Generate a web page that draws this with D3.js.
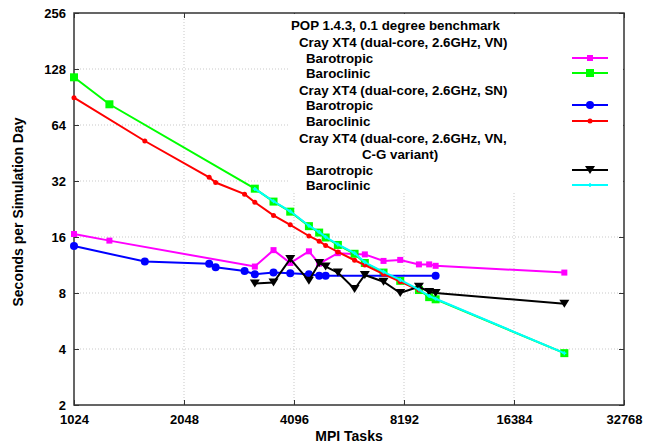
<!DOCTYPE html>
<html>
<head>
<meta charset="utf-8">
<script src="https://cdn.jsdelivr.net/npm/d3@7"></script>
<style>
  body { margin: 0; background: #fff; }
  svg { font-family: "Liberation Sans", Arial, sans-serif; font-weight: bold; }
  .grid line { stroke: #bbb; stroke-dasharray: 1,2; stroke-width: 0.8; }
</style>
</head>
<body>
<div id="chart"></div>
<script>
// tick values
var xTicks = [1024, 2048, 4096, 8192, 16384, 32768];
var yTicks = [2, 4, 8, 16, 32, 64, 128, 256];

// Cray XT4 VN
var vnTropTasks = [1024, 1280, 3200, 3600, 4000, 4500, 4800, 5400, 6400, 7200, 8000, 9000, 9600, 10000, 22500];
var vnTropSecs  = [16.6, 15.3, 11.1, 13.6, 11.6, 13.4, 11.5, 13.1, 12.9, 11.9, 12.05, 11.4, 11.4, 11.2, 10.3];
var vnClinTasks = [1024, 1280, 3200, 3600, 4000, 4500, 4800, 5000, 5400, 6000, 6400, 7200, 8000, 9000, 9600, 10000, 22500];
var vnClinSecs  = [115.5, 82.7, 29.1, 24.8, 21.9, 18.3, 16.9, 15.9, 14.5, 13.0, 11.6, 10.3, 9.3, 8.3, 7.6, 7.4, 3.8];

// Cray XT4 SN
var snTropTasks = [1024, 1600, 2400, 2500, 3000, 3200, 3600, 4000, 4500, 4800, 5000, 10000];
var snTropSecs  = [14.3, 11.8, 11.5, 11.0, 10.5, 10.1, 10.3, 10.2, 10.1, 9.9, 9.9, 9.9];
var snClinTasks = [1024, 1600, 2400, 2500, 3000, 3200, 3600, 4000, 4500, 4800, 5000, 5400, 6000, 6400, 7200, 8000, 9000];
var snClinSecs  = [89.7, 52.5, 33.5, 31.4, 27.2, 24.6, 20.9, 18.6, 16.2, 15.2, 14.4, 13.3, 12.0, 11.3, 10.1, 9.2, 8.3];

// Cray XT4 VN, C-G variant
var cgTropTasks = [3200, 3600, 4000, 4500, 4800, 5000, 5400, 6000, 6400, 7200, 8000, 9000, 9600, 10000, 22500];
var cgTropSecs  = [9.0, 9.1, 12.2, 9.3, 11.6, 11.1, 10.3, 8.4, 10.0, 9.2, 8.0, 8.65, 8.1, 8.0, 7.0];
var cgClinTasks = [3200, 3600, 4000, 4500, 4800, 5000, 5400, 6000, 6400, 7200, 8000, 9000, 9600, 10000, 22500];
var cgClinSecs  = [29.0, 24.9, 22.0, 18.4, 17.0, 16.0, 14.6, 13.1, 11.7, 10.4, 9.4, 8.35, 7.7, 7.45, 3.8];

var legendLines = [
  "POP 1.4.3, 0.1 degree benchmark",
  "Cray XT4 (dual-core, 2.6GHz, VN)", "Barotropic", "Baroclinic",
  "Cray XT4 (dual-core, 2.6GHz, SN)", "Barotropic", "Baroclinic",
  "Cray XT4 (dual-core, 2.6GHz, VN,", "C-G variant)", "Barotropic", "Baroclinic"
];

var width = 657, height = 446;
var pLeft = 74, pRight = 624, pTop = 13, pBottom = 405;

var svg = d3.select("#chart").append("svg")
    .attr("width", width)
    .attr("height", height);

var x = d3.scaleLog().base(2).domain([1024, 32768]).range([pLeft, pRight]);
var y = d3.scaleLog().base(2).domain([2, 256]).range([pBottom, pTop]);

// grid
var grid = svg.append("g").attr("class", "grid");
grid.selectAll("line.v").data(xTicks.slice(1, -1)).enter().append("line")
    .attr("class", "v")
    .attr("x1", function(d) { return x(d); }).attr("x2", function(d) { return x(d); })
    .attr("y1", pTop).attr("y2", pBottom);
grid.selectAll("line.h").data(yTicks.slice(1, -1)).enter().append("line")
    .attr("class", "h")
    .attr("x1", pLeft).attr("x2", pRight)
    .attr("y1", function(d) { return y(d); }).attr("y2", function(d) { return y(d); });

// axes (ticks inward, mirrored)
var xAxis = d3.axisBottom(x).tickValues(xTicks).tickFormat(d3.format("d")).tickSize(-5).tickPadding(10);
var xAxisTop = d3.axisTop(x).tickValues(xTicks).tickFormat("").tickSize(-5);
var yAxis = d3.axisLeft(y).tickValues(yTicks).tickFormat(d3.format("d")).tickSize(-5).tickPadding(8);
var yAxisRight = d3.axisRight(y).tickValues(yTicks).tickFormat("").tickSize(-5);

svg.append("g").attr("transform", "translate(0," + pBottom + ")").call(xAxis);
svg.append("g").attr("transform", "translate(0," + pTop + ")").call(xAxisTop);
svg.append("g").attr("transform", "translate(" + pLeft + ",0)").call(yAxis);
svg.append("g").attr("transform", "translate(" + pRight + ",0)").call(yAxisRight);

svg.selectAll(".domain").remove();
svg.selectAll(".tick line").attr("stroke", "#333").attr("stroke-width", 1);
svg.selectAll(".tick text").attr("font-size", 13).attr("font-weight", "bold").attr("fill", "#000")
  .attr("font-family", "Liberation Sans, Arial, sans-serif");

// legend background
svg.append("rect")
  .attr("x", 290).attr("y", pTop + 1)
  .attr("width", pRight - 290 - 1).attr("height", 193 - pTop - 1)
  .attr("fill", "#fff");

svg.append("rect")
  .attr("x", pLeft).attr("y", pTop)
  .attr("width", pRight - pLeft).attr("height", pBottom - pTop)
  .attr("fill", "none").attr("stroke", "#333").attr("stroke-width", 1.5);

// axis titles
svg.append("text")
  .attr("x", (pLeft + pRight) / 2).attr("y", 441)
  .attr("text-anchor", "middle").attr("font-size", 14)
  .text("MPI Tasks");
svg.append("text")
  .attr("transform", "translate(23," + ((pTop + pBottom) / 2 + 3) + ") rotate(-90)")
  .attr("text-anchor", "middle").attr("font-size", 14)
  .text("Seconds per Simulation Day");

var line = d3.line()
  .x(function(d) { return x(d[0]); })
  .y(function(d) { return y(d[1]); });

function pairs(a, b) { return a.map(function(t, i) { return [t, b[i]]; }); }

function drawMarker(g, kind, color, cx, cy) {
  if (kind === "square") {
    g.append("rect").attr("x", cx - 4).attr("y", cy - 4).attr("width", 8).attr("height", 8).attr("fill", color);
  } else if (kind === "smallsquare") {
    g.append("rect").attr("x", cx - 3).attr("y", cy - 3).attr("width", 6).attr("height", 6).attr("fill", color);
  } else if (kind === "circle") {
    g.append("circle").attr("cx", cx).attr("cy", cy).attr("r", 4).attr("fill", color);
  } else if (kind === "dot") {
    g.append("circle").attr("cx", cx).attr("cy", cy).attr("r", 2.5).attr("fill", color);
  } else if (kind === "tri") {
    g.append("path").attr("d", "M" + (cx - 5) + "," + (cy - 4) + "L" + (cx + 5) + "," + (cy - 4) + "L" + cx + "," + (cy + 4) + "Z")
      .attr("fill", color);
  } else if (kind === "plus") {
    g.append("path").attr("d", "M" + (cx - 2) + "," + cy + "H" + (cx + 2) + "M" + cx + "," + (cy - 2) + "V" + (cy + 2))
      .attr("stroke", color).attr("stroke-width", 1.5);
  }
}

var series = [
  { data: pairs(vnTropTasks, vnTropSecs), color: "#ff00ff", marker: "smallsquare", ly: 58 },
  { data: pairs(vnClinTasks, vnClinSecs), color: "#00ff00", marker: "square", ly: 73 },
  { data: pairs(snTropTasks, snTropSecs), color: "#0000ff", marker: "circle", ly: 105 },
  { data: pairs(snClinTasks, snClinSecs), color: "#ff0000", marker: "dot", ly: 121 },
  { data: pairs(cgTropTasks, cgTropSecs), color: "#000000", marker: "tri", ly: 170 },
  { data: pairs(cgClinTasks, cgClinSecs), color: "#00ffff", marker: "plus", ly: 185 }
];

series.forEach(function(s) {
  var g = svg.append("g");
  g.append("path").datum(s.data).attr("d", line)
    .attr("fill", "none").attr("stroke", s.color).attr("stroke-width", 2);
  s.data.forEach(function(d) { drawMarker(g, s.marker, s.color, x(d[0]), y(d[1])); });
  // legend sample
  g.append("line").attr("x1", 572).attr("x2", 608).attr("y1", s.ly).attr("y2", s.ly)
    .attr("stroke", s.color).attr("stroke-width", 2);
  drawMarker(g, s.marker, s.color, 590, s.ly);
});

// legend text
var legendX = [291, 299, 306, 306, 299, 306, 306, 299, 362, 306, 306];
var legendY = [25, 42, 58, 73, 90, 105, 121, 138, 154, 170, 185];
svg.append("g").selectAll("text").data(legendLines).enter().append("text")
  .attr("x", function(d, i) { return legendX[i]; })
  .attr("y", function(d, i) { return legendY[i]; })
  .attr("dy", "0.35em")
  .attr("font-size", 13.3)
  .text(function(d) { return d; });
</script>
</body>
</html>
